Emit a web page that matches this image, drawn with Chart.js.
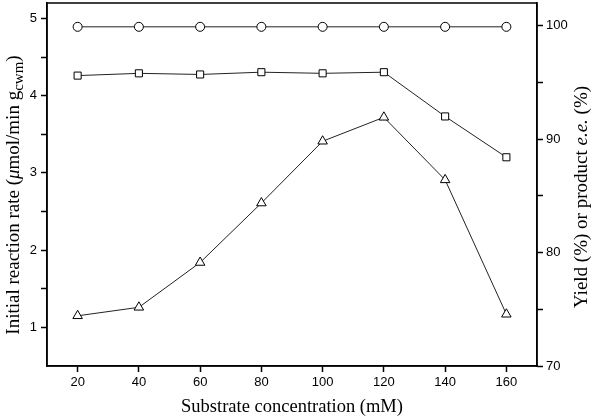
<!DOCTYPE html>
<html>
<head>
<meta charset="utf-8">
<script src="https://cdn.jsdelivr.net/npm/chart.js@4/dist/chart.umd.min.js"></script>
<style>
html,body{margin:0;padding:0;background:#fff;}
#wrap{position:relative;width:600px;height:417px;}
</style>
</head>
<body>
<div id="wrap"><canvas id="c" width="600" height="417"></canvas></div>
<script>
// ---- data ----
const concentrations = [20, 40, 60, 80, 100, 120, 140, 160];
const eeValues = [99.9, 99.9, 99.9, 99.9, 99.9, 99.9, 99.9, 99.9];        // circles (right axis)
const yieldValues = [95.6, 95.8, 95.7, 95.9, 95.8, 95.9, 92.0, 88.4];     // squares (right axis)
const rateValues = [1.15, 1.26, 1.84, 2.61, 3.41, 3.72, 2.91, 1.17];      // triangles (left axis)
const xTicks = [20, 40, 60, 80, 100, 120, 140, 160];
const leftTicks = [1, 1.5, 2, 2.5, 3, 3.5, 4, 4.5, 5];
const rightTicks = [70, 75, 80, 85, 90, 95, 100];

const pts = arr => arr.map((v, i) => ({x: concentrations[i], y: v}));

const frame = {
  id: 'frame',
  afterDraw(chart) {
    const {ctx, chartArea: a} = chart;
    ctx.save();
    ctx.strokeStyle = '#000';
    ctx.lineWidth = 1.5;
    ctx.strokeRect(a.left, a.top, a.right - a.left, a.bottom - a.top);
    ctx.restore();
    // axis titles with mixed styles
    const serif = '"Liberation Serif", "Times New Roman", serif';
    const fs = 19;
    function drawRich(parts, cx, cy) {
      ctx.save();
      ctx.translate(cx, cy);
      ctx.rotate(-Math.PI / 2);
      ctx.fillStyle = '#000';
      ctx.textBaseline = 'middle';
      let total = 0;
      parts.forEach(p => {
        ctx.font = (p.italic ? 'italic ' : '') + (p.size || fs) + 'px ' + serif;
        p.w = ctx.measureText(p.t).width;
        total += p.w;
      });
      let x = -total / 2;
      parts.forEach(p => {
        ctx.font = (p.italic ? 'italic ' : '') + (p.size || fs) + 'px ' + serif;
        ctx.fillText(p.t, x, p.dy || 0);
        x += p.w;
      });
      ctx.restore();
    }
    drawRich([
      {t: 'Initial reaction rate ('},
      {t: 'μ', italic: true},
      {t: 'mol/min g'},
      {t: 'cwm', size: 15, dy: 5},
      {t: ')'}
    ], 14, 195);
    drawRich([
      {t: 'Yield (%) or product '},
      {t: 'e.e.', italic: true},
      {t: ' (%)'}
    ], 582, 197);
    ctx.save();
    ctx.font = '18.5px ' + serif;
    ctx.fillStyle = '#000';
    ctx.textAlign = 'center';
    ctx.textBaseline = 'middle';
    ctx.fillText('Substrate concentration (mM)', (a.left + a.right) / 2, 407);
    ctx.restore();
  }
};

const tickFont = {family: '"Liberation Sans", Arial, sans-serif', size: 13};
const common = {
  showLine: true,
  borderColor: '#222',
  borderWidth: 1,
  pointBackgroundColor: '#fff',
  pointBorderColor: '#000',
  pointBorderWidth: 1,
  pointHoverRadius: 5,
  fill: false,
  tension: 0
};

new Chart(document.getElementById('c'), {
  type: 'scatter',
  data: {
    datasets: [
      Object.assign({label: 'e.e.', data: pts(eeValues), yAxisID: 'y1', pointStyle: 'circle', pointRadius: 4.5}, common),
      Object.assign({label: 'Yield', data: pts(yieldValues), yAxisID: 'y1', pointStyle: 'rect', pointRadius: 5}, common),
      Object.assign({label: 'Rate', data: pts(rateValues), yAxisID: 'y', pointStyle: 'triangle', pointRadius: 5.5}, common)
    ]
  },
  options: {
    responsive: false,
    animation: false,
    devicePixelRatio: 1,
    layout: {autoPadding: false, padding: {top: 3, left: 0, right: 0, bottom: 0}},
    plugins: {legend: {display: false}, tooltip: {enabled: false}},
    scales: {
      x: {
        type: 'linear', min: 10, max: 170,
        afterBuildTicks: s => { s.ticks = xTicks.map(v => ({value: v})); },
        afterFit: s => { s.height = 51; s.paddingLeft = 0; s.paddingRight = 0; },
        border: {display: true, color: '#000', width: 1.5},
        grid: {drawOnChartArea: false, drawTicks: true, tickLength: 6, tickColor: '#000', tickWidth: 1.5},
        ticks: {color: '#000', font: tickFont, padding: 3, maxRotation: 0}
      },
      y: {
        type: 'linear', position: 'left', min: 0.5, max: 5.2,
        afterBuildTicks: s => { s.ticks = leftTicks.map(v => ({value: v})); },
        afterFit: s => { s.width = 47; s.paddingTop = 0; s.paddingBottom = 0; },
        border: {display: true, color: '#000', width: 1.5},
        grid: {drawOnChartArea: false, drawTicks: true, tickLength: 6, tickColor: '#000', tickWidth: 1.5},
        ticks: {color: '#000', font: tickFont, padding: 4,
          callback: v => (Number.isInteger(v) ? String(v) : '')}
      },
      y1: {
        type: 'linear', position: 'right', min: 70, max: 102,
        afterBuildTicks: s => { s.ticks = rightTicks.map(v => ({value: v})); },
        afterFit: s => { s.width = 63; s.paddingTop = 0; s.paddingBottom = 0; },
        border: {display: true, color: '#000', width: 1.5},
        grid: {drawOnChartArea: false, drawTicks: true, tickLength: 6, tickColor: '#000', tickWidth: 1.5},
        ticks: {color: '#000', font: tickFont, padding: 3,
          callback: v => (v % 10 === 0 ? String(v) : '')}
      }
    }
  },
  plugins: [frame]
});
</script>
</body>
</html>
